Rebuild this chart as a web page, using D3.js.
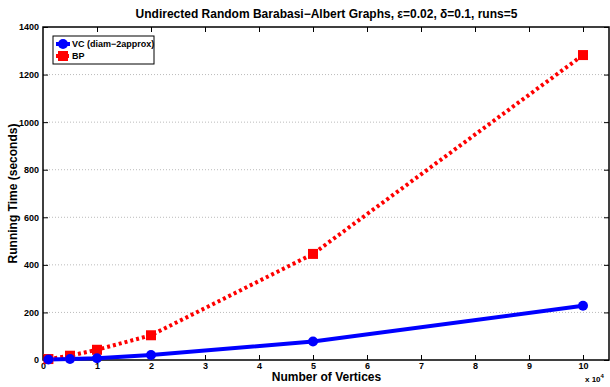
<!DOCTYPE html>
<html>
<head>
<meta charset="utf-8">
<script src="https://cdn.jsdelivr.net/npm/d3@7"></script>
<style>
  html, body { margin: 0; padding: 0; background: #fff; overflow: hidden; }
  svg { display: block; }
  text { font-family: "Liberation Sans", Arial, sans-serif; font-weight: bold; }
</style>
</head>
<body>
<div id="chart"></div>
<script>
// vertex counts in units of 10^4
const vertices = [0.1, 0.5, 1, 2, 5, 10];
const vcTimes = [2, 4, 7, 21, 78, 228];
const bpTimes = [4, 18, 43, 104, 446, 1282];
const xTicks = [0, 1, 2, 3, 4, 5, 6, 7, 8, 9, 10];
const yTicks = [0, 200, 400, 600, 800, 1000, 1200, 1400];
const seriesNames = ['VC (diam\u22122approx)', 'BP'];

const width = 610, height = 387;
const margin = { top: 27, right: 0, bottom: 27, left: 43 };
const innerWidth = width - margin.left - margin.right;
const innerHeight = height - margin.top - margin.bottom;

const svg = d3.select('#chart').append('svg')
    .attr('width', width)
    .attr('height', height);

const chart = svg.append('g')
    .attr('transform', `translate(${margin.left},${margin.top})`);

const xScale = d3.scaleLinear().domain([0, 10.5]).range([0, innerWidth]);
const yScale = d3.scaleLinear().domain([0, 1400]).range([innerHeight, 0]);

// horizontal dotted grid
chart.selectAll('.grid')
    .data(yTicks.slice(1, -1))
    .enter()
    .append('line')
    .attr('x1', 0).attr('x2', innerWidth)
    .attr('y1', d => yScale(d)).attr('y2', d => yScale(d))
    .attr('stroke', '#bbb')
    .attr('stroke-width', 1)
    .attr('stroke-dasharray', '1,2');

// axes with inward ticks
const tickStyle = g => {
    g.select('.domain').remove();
    g.selectAll('line').attr('stroke', '#000');
    g.selectAll('text').attr('font-size', 9).attr('fill', '#000');
};
const noLabels = g => g.selectAll('text').remove();

chart.append('g')
    .attr('transform', `translate(0,${innerHeight})`)
    .call(d3.axisBottom(xScale).tickValues(xTicks).tickSizeInner(-5).tickSizeOuter(0).tickPadding(3).tickFormat(d3.format('d')))
    .call(tickStyle);
chart.append('g')
    .call(d3.axisTop(xScale).tickValues(xTicks.slice(1)).tickSizeInner(-5).tickSizeOuter(0))
    .call(tickStyle)
    .call(noLabels);
chart.append('g')
    .call(d3.axisLeft(yScale).tickValues(yTicks).tickSizeInner(-5).tickSizeOuter(0).tickPadding(4).tickFormat(d3.format('d')))
    .call(tickStyle);
chart.append('g')
    .attr('transform', `translate(${innerWidth - 1},0)`)
    .call(d3.axisRight(yScale).tickValues(yTicks).tickSizeInner(-5).tickSizeOuter(0))
    .call(tickStyle)
    .call(noLabels);

// axes box
chart.append('rect')
    .attr('x', 0).attr('y', 0)
    .attr('width', innerWidth - 1).attr('height', innerHeight)
    .attr('fill', 'none')
    .attr('stroke', '#000')
    .attr('stroke-width', 1.5);

const line = d3.line()
    .x(d => xScale(d[0]))
    .y(d => yScale(d[1]));

const vcData = vertices.map((v, i) => [v, vcTimes[i]]);
const bpData = vertices.map((v, i) => [v, bpTimes[i]]);

chart.append('path')
    .datum(bpData)
    .attr('d', line)
    .attr('fill', 'none')
    .attr('stroke', '#ff0000')
    .attr('stroke-width', 4)
    .attr('stroke-dasharray', '3,3');

chart.append('path')
    .datum(vcData)
    .attr('d', line)
    .attr('fill', 'none')
    .attr('stroke', '#0000ff')
    .attr('stroke-width', 4);

chart.selectAll('.bp')
    .data(bpData)
    .enter()
    .append('rect')
    .attr('x', d => xScale(d[0]) - 5)
    .attr('y', d => yScale(d[1]) - 5)
    .attr('width', 10).attr('height', 10)
    .attr('fill', '#ff0000');

chart.selectAll('.vc')
    .data(vcData)
    .enter()
    .append('circle')
    .attr('cx', d => xScale(d[0]))
    .attr('cy', d => yScale(d[1]))
    .attr('r', 5)
    .attr('fill', '#0000ff');

// legend
const legend = chart.append('g').attr('transform', 'translate(10,9)');
legend.append('rect')
    .attr('width', 101).attr('height', 28)
    .attr('fill', '#fff')
    .attr('stroke', '#000')
    .attr('stroke-width', 1);

const legendItems = legend.selectAll('.item')
    .data(seriesNames)
    .enter()
    .append('g')
    .attr('transform', (d, i) => `translate(3,${8 + i * 12})`);

legendItems.append('line')
    .attr('x1', 0).attr('x2', 14)
    .attr('stroke', (d, i) => i === 0 ? '#0000ff' : '#ff0000')
    .attr('stroke-width', 4)
    .attr('stroke-dasharray', (d, i) => i === 0 ? null : '3,2');
legendItems.filter((d, i) => i === 0).append('circle')
    .attr('cx', 7).attr('r', 5).attr('fill', '#0000ff');
legendItems.filter((d, i) => i === 1).append('rect')
    .attr('x', 2).attr('y', -5).attr('width', 10).attr('height', 10).attr('fill', '#ff0000');
legendItems.append('text')
    .attr('x', 16).attr('dy', '0.35em')
    .attr('font-size', 9)
    .text(d => d);

// title and labels
const cx = margin.left + innerWidth / 2;
svg.append('text')
    .attr('x', cx).attr('y', 18)
    .attr('text-anchor', 'middle')
    .attr('font-size', 12)
    .text('Undirected Random Barabasi\u2212Albert Graphs, \u03b5=0.02, \u03b4=0.1, runs=5');

svg.append('text')
    .attr('x', cx).attr('y', 381)
    .attr('text-anchor', 'middle')
    .attr('font-size', 12)
    .text('Number of Vertices');

svg.append('text')
    .attr('transform', `translate(17,${margin.top + innerHeight / 2}) rotate(-90)`)
    .attr('text-anchor', 'middle')
    .attr('font-size', 12)
    .text('Running Time (seconds)');

const exp = svg.append('text')
    .attr('x', 585).attr('y', 382)
    .attr('font-size', 8)
    .text('x 10');
exp.append('tspan').attr('dy', -4).attr('font-size', 6).text('4');
</script>
</body>
</html>
